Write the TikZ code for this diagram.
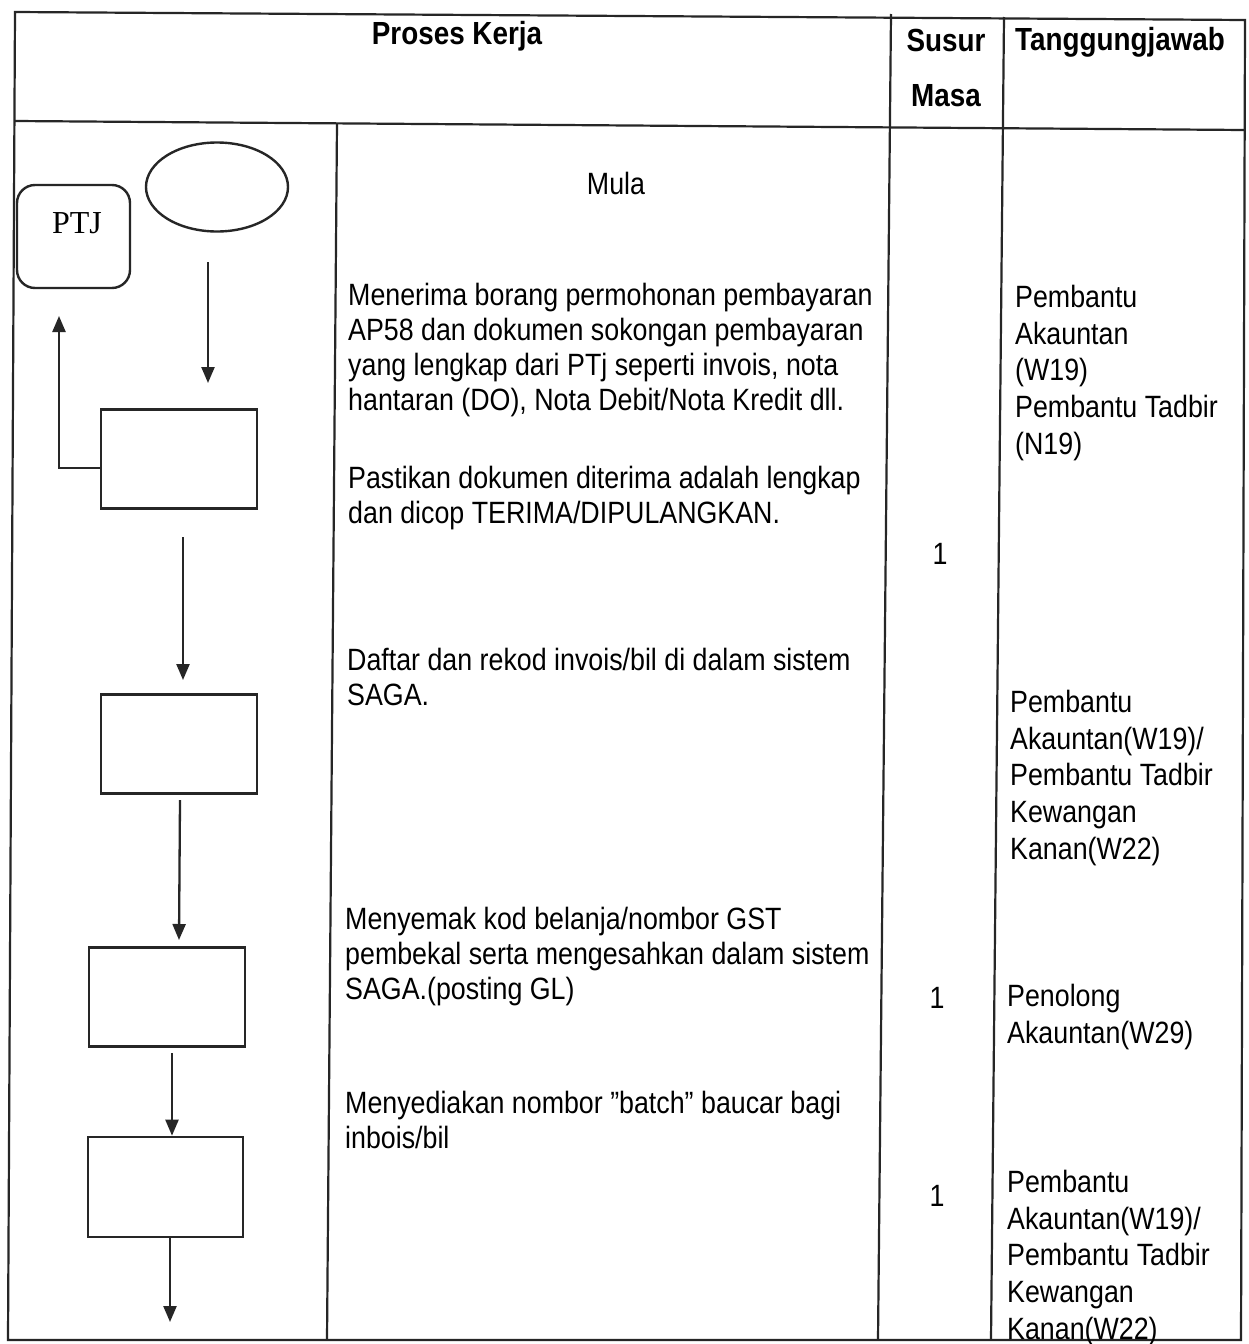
\documentclass[tikz,border=0pt]{standalone}
\usepackage{fontspec}
\setmainfont{Liberation Sans}[FakeStretch=0.87]
\newfontfamily\ptjfont{Liberation Serif}
\usetikzlibrary{arrows.meta,shapes.geometric}
\begin{document}
\begin{tikzpicture}[x=1pt,y=-1pt,
  tline/.style={line width=2.2pt,black!85},
  boxnode/.style={draw,line width=2.7pt,black!85,rectangle,inner sep=0pt,minimum width=156pt,minimum height=99pt},
  arr/.style={line width=2.3pt,black!85,-{Triangle[length=16pt,width=13pt]}},
  hdr/.style={font=\bfseries\fontsize{32}{36}\selectfont,anchor=base,inner sep=0pt},
  body/.style={font=\fontsize{30.8}{35}\selectfont,align=left,anchor=north west,inner sep=0pt},
  resp/.style={font=\fontsize{30.8}{36.7}\selectfont,align=left,anchor=north west,inner sep=0pt},
  num/.style={font=\fontsize{30.8}{35}\selectfont,anchor=base,inner sep=0pt}
]
\useasboundingbox (0,0) rectangle (1248,1344);
\fill[white] (0,0) rectangle (1248,1344);

% table frame
\draw[tline] (15,12) -- (1245,20) -- (1241,1340) -- (8,1340) -- cycle;
\draw[tline] (15,121) -- (1245,130);
\draw[tline] (891,14) -- (878,1340);
\draw[tline] (1004,17) -- (991,1340);
\draw[tline] (337,123) -- (327,1340);

% header
\node[hdr] (hproses) at (457,44) {Proses Kerja};
\node[hdr] (hsusur) at (946,51) {Susur};
\node[hdr] (hmasa) at (946,106) {Masa};
\node[hdr] (htj) at (1120,50) {Tanggungjawab};

% flowchart shapes
\node[draw,line width=2.4pt,black!85,rounded corners=18pt,minimum width=113pt,minimum height=103pt,inner sep=0pt] (ptj) at (73.5,236.5) {};
\node[font=\ptjfont\fontsize{32}{36}\selectfont,anchor=base,inner sep=0pt] (ptjlabel) at (77,233) {PTJ};
\node[draw,ellipse,line width=2.4pt,black!85,minimum width=142pt,minimum height=89pt,inner sep=0pt] (start) at (217,187) {};
\node[boxnode] (b1) at (179,459) {};
\node[boxnode] (b2) at (179,744) {};
\node[boxnode] (b3) at (167,997) {};
\node[boxnode,minimum width=155pt,minimum height=100pt] (b4) at (165.5,1187) {};

% connectors
\coordinate (a1s) at (208,262);
\coordinate (a1e) at (208,383);
\draw[arr] (a1s) -- (a1e);
\coordinate (fb) at (59,316);
\draw[arr] ([yshift=-9pt]b1.west) -| (fb);
\coordinate (a2s) at (183,537);
\coordinate (a2e) at (183,680);
\draw[arr] (a2s) -- (a2e);
\coordinate (a3s) at (180,800);
\coordinate (a3e) at (179,940);
\draw[arr] (a3s) -- (a3e);
\coordinate (a4s) at (172,1053);
\draw[arr] (a4s) -- (b4.north -| a4s);
\coordinate (a5e) at (170,1322);
\draw[arr] (b4.south -| a5e) -- (a5e);

% process texts
\node[font=\fontsize{30.8}{35}\selectfont,anchor=base,inner sep=0pt] (mula) at (616,194) {Mula};
\node[body] (p1) at (348,283) {Menerima borang permohonan pembayaran\\AP58 dan dokumen sokongan pembayaran\\yang lengkap dari PTj seperti invois, nota\\hantaran (DO), Nota Debit/Nota Kredit dll.};
\node[body] (p2) at (348,466) {Pastikan dokumen diterima adalah lengkap\\dan dicop TERIMA/DIPULANGKAN.};
\node[body] (p3) at (347,648) {Daftar dan rekod invois/bil di dalam sistem\\SAGA.};
\node[body] (p4) at (345,907) {Menyemak kod belanja/nombor GST\\pembekal serta mengesahkan dalam sistem\\SAGA.(posting GL)};
\node[body] (p5) at (345,1091) {Menyediakan nombor ”batch” baucar bagi\\inbois/bil};

% susur masa
\node[num] (n1) at (940,564) {1};
\node[num] (n2) at (937,1008) {1};
\node[num] (n3) at (937,1206) {1};

% tanggungjawab
\node[resp] (r1) at (1015,285) {Pembantu\\Akauntan\\(W19)\\Pembantu Tadbir\\(N19)};
\node[resp] (r2) at (1010,690) {Pembantu\\Akauntan(W19)/\\Pembantu Tadbir\\Kewangan\\Kanan(W22)};
\node[resp] (r3) at (1007,984) {Penolong\\Akauntan(W29)};
\node[resp] (r4) at (1007,1170) {Pembantu\\Akauntan(W19)/\\Pembantu Tadbir\\Kewangan\\Kanan(W22)};
\end{tikzpicture}
\end{document}
